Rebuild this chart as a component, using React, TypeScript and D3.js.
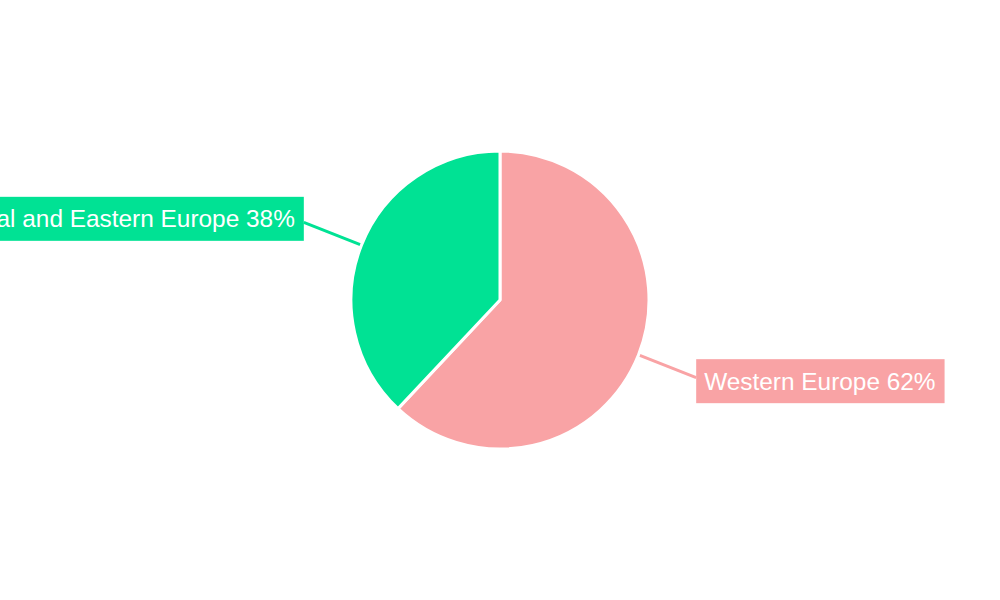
import React from "react";
import * as d3 from "d3";

const categories = ["Western Europe", "Central and Eastern Europe"];
const values = [62, 38];
const colors = ["#F9A3A5", "#00E294"];

const W = 1000;
const H = 600;
const CX = 500;
const CY = 300;
const R = 149;
const LINE_R = 211;
const FONT = 24.4;
const PADL = 8;
const PADR = 9;
const BOX_H = 44;
const LABEL_SHIFT = 3.5;

export default function App() {
  const pie = d3
    .pie<number>()
    .sort(null)
    .startAngle(0)
    .endAngle(2 * Math.PI)
    .value((d) => d);
  const arcs = pie(values);
  const arc = d3.arc<d3.PieArcDatum<number>>().innerRadius(0).outerRadius(R);
  const total = d3.sum(values);

  return (
    <svg
      width={W}
      height={H}
      style={{ position: "fixed", left: 0, top: 0, background: "#fff" }}
      fontFamily="'Liberation Sans', Arial, sans-serif"
    >
      <g transform={`translate(${CX},${CY})`}>
        {arcs.map((a, i) => {
          const mid = (a.startAngle + a.endAngle) / 2;
          const sx = Math.sin(mid);
          const sy = -Math.cos(mid);
          const x1 = sx * R;
          const y1 = sy * R;
          const x2 = sx * LINE_R;
          const y2 = sy * LINE_R;
          const label = `${categories[i]} ${Math.round((values[i] / total) * 100)}%`;
          const right = sx >= 0;
          return (
            <g key={categories[i]}>
              <line
                x1={x1}
                y1={y1}
                x2={x2}
                y2={y2}
                stroke={colors[i]}
                strokeWidth={3}
              />
              <LabelBox
                x={x2}
                y={y2 + Math.sign(sy) * LABEL_SHIFT}
                right={right}
                text={label}
                color={colors[i]}
              />
            </g>
          );
        })}
        {arcs.map((a, i) => (
          <path
            key={"p" + i}
            d={arc(a) || ""}
            fill={colors[i]}
            stroke="#fff"
            strokeWidth={3}
            strokeLinejoin="round"
          />
        ))}
      </g>
    </svg>
  );
}

function LabelBox({
  x,
  y,
  right,
  text,
  color,
}: {
  x: number;
  y: number;
  right: boolean;
  text: string;
  color: string;
}) {
  const ref = React.useRef<SVGTextElement>(null);
  const [tw, setTw] = React.useState(0);
  React.useLayoutEffect(() => {
    if (ref.current) setTw(ref.current.getComputedTextLength());
  }, [text]);
  const bw = tw + PADL + PADR;
  const bx = right ? x : x - bw;
  const by = y - BOX_H / 2;
  return (
    <g>
      <rect x={bx} y={by} width={bw} height={BOX_H} fill={color} />
      <text
        ref={ref}
        x={bx + PADL}
        y={y}
        dy="0.35em"
        fontSize={FONT}
        fill="#fff"
      >
        {text}
      </text>
    </g>
  );
}
